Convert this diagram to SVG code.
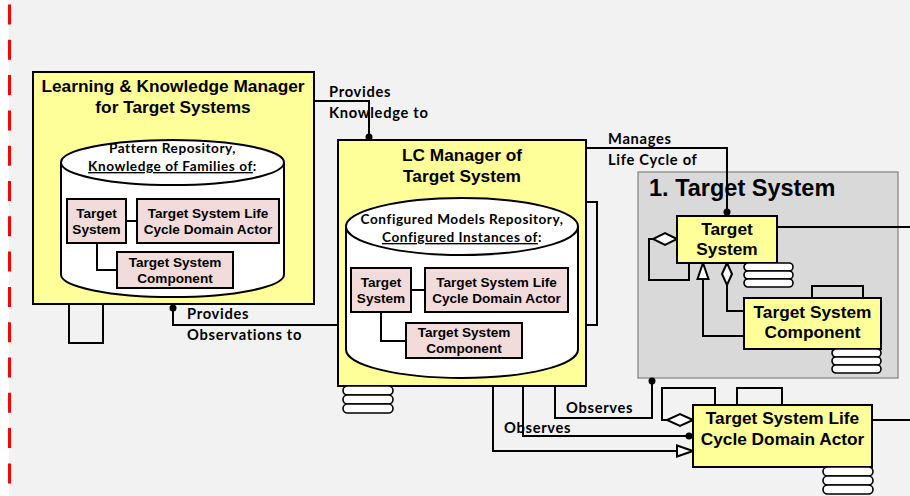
<svg xmlns="http://www.w3.org/2000/svg" xmlns:xlink="http://www.w3.org/1999/xlink" width="910" height="496" viewBox="0 0 910 496">
<defs>
<style>
.node{fill:#ffff99;stroke:#000;stroke-width:2}
.pink{fill:#f2dcdb;stroke:#000;stroke-width:2}
.cyl{fill:#fff;stroke:#000;stroke-width:2}
.ln{fill:none;stroke:#000;stroke-width:2}
.pill{fill:#fff;stroke:#000;stroke-width:1.6}
.t1{font-family:"Liberation Sans",Arial,sans-serif;font-weight:bold;font-size:17.3px;fill:#000;text-anchor:middle}
.t2{font-family:"Liberation Sans",Arial,sans-serif;font-weight:bold;font-size:13.6px;fill:#000;text-anchor:middle}
.c1{font-family:Lato,"Open Sans",sans-serif;font-weight:bold;font-size:13.6px;letter-spacing:0.55px;fill:#000;text-anchor:middle}
.lbl{font-family:Lato,"Open Sans",sans-serif;font-weight:bold;font-size:14.7px;letter-spacing:0.7px;fill:#000}
</style>
<g id="stk">
<rect class="pill" x="0" y="0" width="50" height="9" rx="4.5"/>
<rect class="pill" x="0" y="9" width="50" height="9" rx="4.5"/>
<rect class="pill" x="0" y="18" width="50" height="9" rx="4.5"/>
</g>
<g id="stk2">
<rect class="pill" x="0" y="0" width="49" height="8" rx="4"/>
<rect class="pill" x="0" y="8" width="49" height="8" rx="4"/>
<rect class="pill" x="0" y="16" width="49" height="8" rx="4"/>
</g>
</defs>
<rect x="0" y="0" width="910" height="496" fill="#ffffff"/>
<rect x="9" y="0" width="901" height="496" fill="#f2f2f2"/>
<line x1="9.5" y1="4.5" x2="9.5" y2="496" stroke="#ff0000" stroke-width="3" stroke-dasharray="20 15.3"/>

<g id="target-system-container">
<rect x="638" y="172" width="260" height="206" fill="#d9d9d9" stroke="#808080" stroke-width="1.2"/>
<text x="649" y="196" font-family="Liberation Sans,Arial,sans-serif" font-weight="bold" font-size="23.5px" fill="#000">1. Target System</text>
</g>

<g id="connectors">
<path class="ln" d="M69,304 V343 H103 V304"/>
<path class="ln" d="M314,101 H369 V140"/>
<circle cx="369" cy="137" r="3.5" fill="#000"/>
<path class="ln" d="M173,304 V325 H338"/>
<circle cx="173" cy="308" r="3.5" fill="#000"/>
<path class="ln" d="M586,202 H597 V325 H586"/>
<path class="ln" d="M586,148 H727 V216"/>
<circle cx="727" cy="212" r="3.5" fill="#000"/>
<path class="ln" d="M653,239 H649 V280 H689 V263"/>
<path d="M677,239 L665,233 L653,239 L665,245 Z" fill="#fff" stroke="#000" stroke-width="2"/>
<path class="ln" d="M777,227 H910"/>
<path class="ln" d="M703,279 V336 H744"/>
<path d="M703,263 L697.5,279 L708.5,279 Z" fill="#fff" stroke="#000" stroke-width="2"/>
<path class="ln" d="M727,285 V311 H744"/>
<path d="M727,263 L722,274 L727,285 L732,274 Z" fill="#fff" stroke="#000" stroke-width="2"/>
<path class="ln" d="M812,298 V286 H863 V298"/>
<path class="ln" d="M555,386 V418 H652 V378"/>
<circle cx="652" cy="381" r="3.5" fill="#000"/>
<path class="ln" d="M523,386 V436 H693"/>
<circle cx="689" cy="436" r="3.5" fill="#000"/>
<path class="ln" d="M493,386 V451 H677"/>
<path d="M693,451 L677,445.5 L677,456.5 Z" fill="#fff" stroke="#000" stroke-width="2"/>
<path class="ln" d="M667,420 H662 V388 H715 V405"/>
<path d="M693,420 L680,414 L667,420 L680,426 Z" fill="#fff" stroke="#000" stroke-width="2"/>
<path class="ln" d="M737,405 V388 H782 V405"/>
<path class="ln" d="M872,420 H910"/>
</g>

<g id="connector-labels">
<text class="lbl" x="329" y="97">Provides</text>
<text class="lbl" x="329" y="118">Knowledge to</text>
<text class="lbl" x="187" y="319">Provides</text>
<text class="lbl" x="187" y="340">Observations to</text>
<text class="lbl" x="608" y="144">Manages</text>
<text class="lbl" x="608" y="165">Life Cycle of</text>
<text class="lbl" x="566" y="413">Observes</text>
<text class="lbl" x="504" y="433">Observes</text>
</g>

<g id="learning-knowledge-manager">
<rect class="node" x="33" y="72" width="281" height="232"/>
<text class="t1" x="173" y="92">Learning &amp; Knowledge Manager</text>
<text class="t1" x="173" y="113">for Target Systems</text>
<path class="cyl" d="M61,162.5 V274.5 A111.5,22.5 0 0 0 284,274.5 V162.5"/>
<ellipse class="cyl" cx="172.5" cy="162.5" rx="111.5" ry="22.5"/>
<text class="c1" x="172.5" y="153">Pattern Repository,</text>
<text class="c1" x="172.5" y="171"><tspan text-decoration="underline">Knowledge of Families of</tspan>:</text>
<path class="ln" d="M126,221 H137 M97,243 V270 H117"/>
<rect class="pink" x="67" y="199" width="59" height="44"/>
<text class="t2" x="96.5" y="218">Target</text>
<text class="t2" x="96.5" y="234">System</text>
<rect class="pink" x="137" y="199" width="142" height="44"/>
<text class="t2" x="208" y="218">Target System Life</text>
<text class="t2" x="208" y="234">Cycle Domain Actor</text>
<rect class="pink" x="117" y="252" width="116" height="36"/>
<text class="t2" x="175" y="267">Target System</text>
<text class="t2" x="175" y="283">Component</text>
</g>

<g id="lc-manager">
<rect class="node" x="338" y="140" width="248" height="246"/>
<text class="t1" x="462" y="161">LC Manager of</text>
<text class="t1" x="462" y="182">Target System</text>
<path class="cyl" d="M346,226.5 V349.5 A116,28.5 0 0 0 578,349.5 V226.5"/>
<ellipse class="cyl" cx="462" cy="226.5" rx="116" ry="28.5"/>
<text class="c1" x="462" y="224">Configured Models Repository,</text>
<text class="c1" x="462" y="242"><tspan text-decoration="underline">Configured Instances of</tspan>:</text>
<path class="ln" d="M411,290 H425 M381,312 V341 H406"/>
<rect class="pink" x="351" y="268" width="60" height="44"/>
<text class="t2" x="381" y="287">Target</text>
<text class="t2" x="381" y="303">System</text>
<rect class="pink" x="425" y="268" width="143" height="44"/>
<text class="t2" x="496.5" y="287">Target System Life</text>
<text class="t2" x="496.5" y="303">Cycle Domain Actor</text>
<rect class="pink" x="406" y="323" width="116" height="35"/>
<text class="t2" x="464" y="337">Target System</text>
<text class="t2" x="464" y="353">Component</text>
<use xlink:href="#stk" x="343" y="386"/>
</g>

<g id="target-system">
<rect class="node" x="677" y="216" width="100" height="47"/>
<text class="t1" x="727" y="235">Target</text>
<text class="t1" x="727" y="255">System</text>
<use xlink:href="#stk2" x="744" y="263"/>
</g>

<g id="target-system-component">
<rect class="node" x="744" y="298" width="137" height="51"/>
<text class="t1" x="812.5" y="318">Target System</text>
<text class="t1" x="812.5" y="338">Component</text>
<use xlink:href="#stk2" x="832" y="349"/>
</g>

<g id="target-system-lc-domain-actor">
<rect class="node" x="693" y="405" width="179" height="62"/>
<text class="t1" x="782.5" y="424">Target System Life</text>
<text class="t1" x="782.5" y="445">Cycle Domain Actor</text>
<use xlink:href="#stk" x="823" y="467"/>
</g>
</svg>
